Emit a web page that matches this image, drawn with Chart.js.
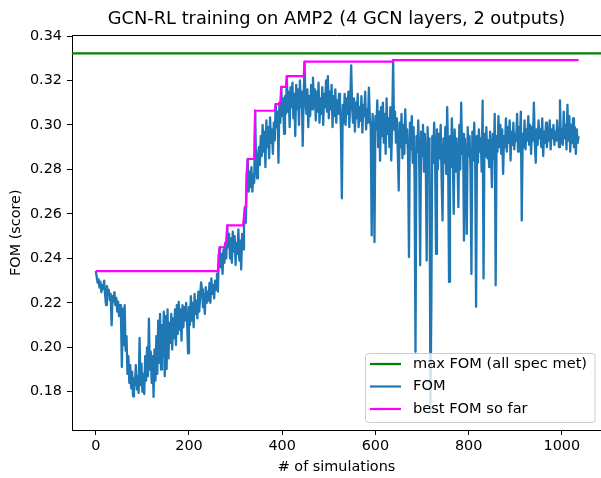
<!DOCTYPE html>
<html><head><meta charset="utf-8">
<script src="https://cdn.jsdelivr.net/npm/chart.js@4.4.1/dist/chart.umd.min.js"></script>
<style>html,body{margin:0;padding:0;background:#fff}</style>
</head><body>
<canvas id="c" width="601" height="478"></canvas>
<script>
const TITLE = "GCN-RL training on AMP2 (4 GCN layers, 2 outputs)";
const X_LABEL = "# of simulations";
const Y_LABEL = "FOM (score)";
const SERIES_LABELS = ["max FOM (all spec met)", "FOM", "best FOM so far"];
const X_TICKS = [0, 200, 400, 600, 800, 1000];
const Y_TICKS = [0.18, 0.20, 0.22, 0.24, 0.26, 0.28, 0.30, 0.32, 0.34];
const X_RANGE = [-51, 1084];
const Y_RANGE = [0.1628, 0.3403];
const SIM_STEP = 2;
const MAX_FOM = 0.3322;
const FOM = [
.2343,.2316,.2290,.2305,.2268,.2295,.2248,.2280,.2262,.2300,
.2236,.2190,.2275,.2245,.2258,.2212,.2240,.2099,.2230,.2205,
.2248,.2190,.2222,.2160,.2205,.2140,.2190,.2150,.1912,.2174,
.2010,.2190,.1985,.2050,.1880,.1960,.1840,.1920,.1815,.1890,
.1779,.1860,.1830,.1920,.1810,.1870,.1795,.2042,.1830,.1926,
.1800,.1880,.1790,.1960,.1850,.2000,.1870,.2129,.1900,.1980,
.1840,.1960,.1777,.1990,.1850,.2050,.1880,.2120,.1930,.2150,
.1900,.2100,.1960,.2160,.1870,.2140,.1902,.2170,.1950,.2110,
.2020,.2150,.1990,.2130,.2040,.2170,.2010,.2190,.2060,.2204,
.2080,.2170,.2030,.2190,.2090,.2180,.2121,.2200,.2110,.1973,
.2180,.2100,.2230,.2120,.2200,.2090,.2240,.2150,.2210,.2130,
.2250,.2160,.2230,.2292,.2260,.2180,.2240,.2150,.2270,.2200,
.2250,.2210,.2290,.2200,.2310,.2240,.2280,.2220,.2300,.2260,
.2330,.2250,.2413,.2450,.2360,.2420,.2330,.2440,.2380,.2470,
.2400,.2548,.2450,.2510,.2400,.2490,.2380,.2520,.2430,.2500,
.2370,.2470,.2420,.2530,.2390,.2480,.2350,.2510,.2440,.2540,
.2630,.2560,.2780,.2847,.2700,.2790,.2720,.2810,.2700,.2780,
.2740,.3064,.2810,.2760,.2860,.2900,.2820,.2950,.2860,.3000,
.2880,.2970,.2810,.3020,.2900,.2990,.2850,.3034,.2920,.2980,
.2870,.3010,.2930,.3094,.2990,.3060,.2830,.3100,.3010,.3171,
.3040,.3120,.2960,.3130,.3050,.3220,.3060,.3150,.2990,.3170,
.3080,.3190,.3030,.3140,.2950,.3180,.3070,.3160,.3000,.3200,
.3080,.3150,.2906,.3120,.3285,.3100,.3050,.3160,.2990,.3130,
.3040,.3180,.3070,.3213,.3090,.3160,.3020,.3150,.3060,.3190,
.3010,.3120,.3050,.3170,.3000,.3140,.3080,.3200,.3060,.3220,
.3030,.3150,.3070,.3180,.2990,.3130,.3040,.3160,.3010,.3110,
.3050,.3140,.3100,.2980,.2670,.3090,.3010,.3140,.3000,.3120,
.3050,.3150,.2990,.3110,.3268,.3080,.3010,.3120,.2970,.3100,
.3030,.3140,.2990,.3080,.3020,.3130,.2966,.3090,.3040,.3150,
.2980,.3070,.3010,.3168,.3030,.2990,.2503,.3050,.2960,.2473,
.3040,.2980,.3110,.2900,.3060,.2839,.3080,.2950,.3100,.2920,
.3050,.2870,.3120,.2960,.3030,.2900,.3080,.2840,.3000,.3292,
.2980,.3060,.2920,.3030,.2880,.2705,.3010,.2900,.3050,.2850,
.3000,.2870,.3070,.2920,.2980,.2860,.2406,.3010,.2890,.3040,
.2830,.2990,.2760,.1980,.2950,.2880,.3020,.2830,.2369,.2970,
.2860,.3000,.2790,.2960,.2850,.2390,.2990,.2810,.2940,.1709,
.2189,.2950,.2830,.3010,.2870,.2420,.2980,.2800,.2960,.2850,
.3000,.2760,.2570,.2940,.2830,.2990,.2780,.3080,.2860,.2294,
.2950,.2810,.3030,.2860,.2600,.2980,.2790,.2940,.2850,.2630,
.3000,.2800,.3100,.2870,.2960,.2480,.2940,.2830,.2510,.2990,
.2860,.2950,.2800,.2330,.2970,.2840,.3010,.2870,.2182,.2950,
.2830,.2980,.2880,.2940,.2790,.3109,.2309,.2960,.2860,.2990,
.2850,.2930,.2810,.2970,.2870,.2720,.2960,.2850,.3050,.2279,
.2950,.2880,.3040,.2900,.3000,.2870,.2980,.2780,.2950,.2900,
.3030,.2880,.2990,.2920,.3020,.2840,.2970,.2910,.3010,.2890,
.2960,.2930,.3050,.2880,.2990,.2920,.3060,.2570,.2960,.2900,
.3020,.2890,.2980,.2930,.3040,.2910,.3000,.2870,.2990,.2930,
.3100,.2920,.2830,.2980,.2910,.3020,.2940,.2980,.2900,.3030,
.2860,.2970,.2920,.3010,.2900,.2990,.2930,.3020,.2890,.2980,
.2940,.3000,.2910,.2970,.2930,.3020,.2950,.2900,.3110,.2920,
.2980,.2910,.3060,.2940,.3000,.2890,.3090,.2930,.3040,.2880,
.3000,.2920,.3030,.2900,.2990,.2870,.2980,.2920,.2950
];
const COLORS = ["#008000", "#1f77b4", "#ff00ff"];

const FONT = '"DejaVu Sans", sans-serif';
Chart.defaults.font.family = FONT;
Chart.defaults.color = '#000';

const fomPts = FOM.map((v, i) => ({x: i * SIM_STEP, y: v}));
let best = -Infinity;
const bestPts = FOM.map((v, i) => { best = Math.max(best, v); return {x: i * SIM_STEP, y: best}; });
const maxPts = [{x: X_RANGE[0], y: MAX_FOM}, {x: X_RANGE[1], y: MAX_FOM}];

const spinePlugin = {
  id: 'spine',
  afterDatasetsDraw(chart) {
    const ctx = chart.ctx, a = chart.chartArea;
    ctx.save();
    ctx.strokeStyle = '#000'; ctx.lineWidth = 1;
    ctx.beginPath();
    ctx.moveTo(a.left, Math.round(a.top) + 0.5);
    ctx.lineTo(a.right, Math.round(a.top) + 0.5);
    ctx.stroke();
    // legend
    ctx.font = '14.6px ' + FONT;
    const items = chart.data.datasets.map(d => ({t: d.label, c: d.borderColor}));
    const tw = Math.max(...items.map(i => ctx.measureText(i.t).width));
    const x0 = 365.5, y0 = 353.5;
    const textX = 413;
    const x1 = textX + tw + 8, y1 = 422.5;
    const r = 3;
    ctx.beginPath();
    ctx.moveTo(x0 + r, y0);
    ctx.lineTo(x1 - r, y0); ctx.arcTo(x1, y0, x1, y0 + r, r);
    ctx.lineTo(x1, y1 - r); ctx.arcTo(x1, y1, x1 - r, y1, r);
    ctx.lineTo(x0 + r, y1); ctx.arcTo(x0, y1, x0, y1 - r, r);
    ctx.lineTo(x0, y0 + r); ctx.arcTo(x0, y0, x0 + r, y0, r);
    ctx.closePath();
    ctx.fillStyle = 'rgba(255,255,255,0.8)';
    ctx.fill();
    ctx.strokeStyle = '#cccccc';
    ctx.stroke();
    const rows = [364, 386.5, 409];
    items.forEach((it, k) => {
      ctx.strokeStyle = it.c; ctx.lineWidth = 2.2;
      ctx.beginPath(); ctx.moveTo(370, rows[k]); ctx.lineTo(401, rows[k]); ctx.stroke();
      ctx.fillStyle = '#000'; ctx.textBaseline = 'middle'; ctx.textAlign = 'left';
      ctx.fillText(it.t, textX, rows[k]);
    });
    ctx.restore();
  }
};

new Chart(document.getElementById('c'), {
  type: 'line',
  data: {
    datasets: [
      {label: SERIES_LABELS[0], data: maxPts, borderColor: COLORS[0], borderWidth: 2.2, pointRadius: 0, order: 3},
      {label: SERIES_LABELS[1], data: fomPts, borderColor: COLORS[1], borderWidth: 2.3, pointRadius: 0, order: 2},
      {label: SERIES_LABELS[2], data: bestPts, borderColor: COLORS[2], borderWidth: 2.2, pointRadius: 0, order: 1}
    ]
  },
  options: {
    responsive: false,
    animation: false,
    devicePixelRatio: 1,
    layout: {padding: 0},
    elements: {line: {tension: 0, borderJoinStyle: 'round', borderCapStyle: 'butt'}},
    plugins: {
      legend: {display: false},
      tooltip: {enabled: false},
      title: {display: true, text: TITLE, fullSize: false, color: '#000',
        font: {size: 17.8, weight: 'normal', family: FONT}, padding: {top: 8.5, bottom: 5.5}}
    },
    scales: {
      x: {
        type: 'linear', min: X_RANGE[0], max: X_RANGE[1],
        afterBuildTicks: s => { s.ticks = X_TICKS.map(v => ({value: v})); },
        afterFit: s => { s.height = 48; },
        ticks: {callback: v => String(v), font: {size: 14.4}, color: '#000', padding: 3, maxRotation: 0, autoSkip: false},
        grid: {drawOnChartArea: false, drawTicks: true, tickLength: 5, color: '#000', lineWidth: 1},
        border: {display: true, color: '#000', width: 1},
        title: {display: true, text: X_LABEL, color: '#000', font: {size: 14.4}, padding: {top: 0, bottom: 2}}
      },
      y: {
        type: 'linear', min: Y_RANGE[0], max: Y_RANGE[1],
        afterBuildTicks: s => { s.ticks = Y_TICKS.map(v => ({value: v})); },
        afterFit: s => { s.width = 72; },
        ticks: {callback: v => v.toFixed(2), font: {size: 14.4}, color: '#000', padding: 5, autoSkip: false},
        grid: {drawOnChartArea: false, drawTicks: true, tickLength: 5, color: '#000', lineWidth: 1},
        border: {display: true, color: '#000', width: 1},
        title: {display: true, text: Y_LABEL, color: '#000', font: {size: 14.4}, padding: {top: 7.4, bottom: 0}}
      }
    }
  },
  plugins: [spinePlugin]
});
</script>
</body></html>
